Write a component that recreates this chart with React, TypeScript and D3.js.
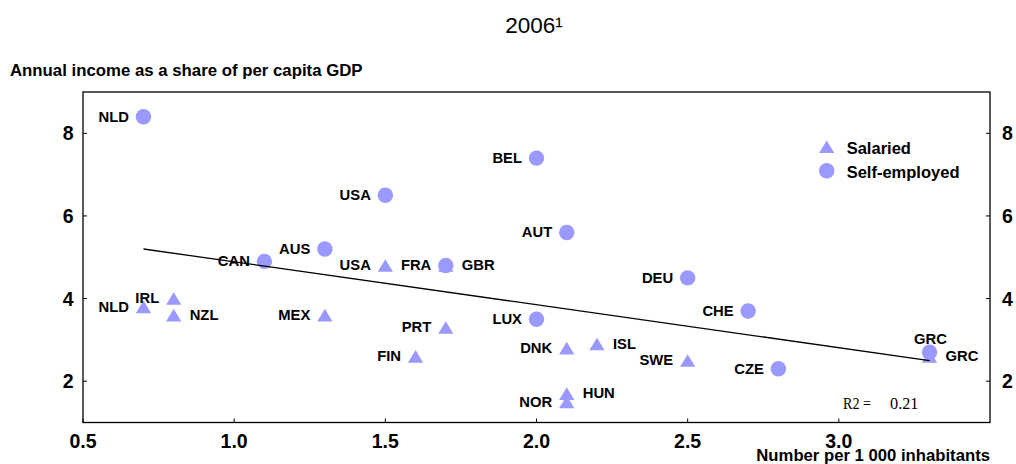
import React from "react";
import * as d3 from "d3";

const salariedCountries = ["NLD", "IRL", "NZL", "MEX", "USA", "FRA", "PRT", "FIN", "DNK", "ISL", "SWE", "HUN", "NOR", "GRC"];
const salariedX = [0.7, 0.8, 0.8, 1.3, 1.5, 1.7, 1.7, 1.6, 2.1, 2.2, 2.5, 2.1, 2.1, 3.3];
const salariedY = [3.8, 4.0, 3.6, 3.6, 4.8, 4.8, 3.3, 2.6, 2.8, 2.9, 2.5, 1.7, 1.5, 2.6];
const salariedLabelSide = ["l", "l", "r", "l", "l", "l", "l", "l", "l", "r", "l", "r", "l", "r"];

const selfCountries = ["NLD", "BEL", "USA", "AUT", "AUS", "CAN", "GBR", "DEU", "CHE", "LUX", "CZE", "GRC"];
const selfX = [0.7, 2.0, 1.5, 2.1, 1.3, 1.1, 1.7, 2.5, 2.7, 2.0, 2.8, 3.3];
const selfY = [8.4, 7.4, 6.5, 5.6, 5.2, 4.9, 4.8, 4.5, 3.7, 3.5, 2.3, 2.7];
const selfLabelSide = ["l", "l", "l", "l", "l", "l", "r", "l", "l", "l", "l", "t"];

const trendX = [0.7, 3.3];
const trendY = [5.2, 2.5];

const xTicks = [0.5, 1.0, 1.5, 2.0, 2.5, 3.0];
const yTicks = [2, 4, 6, 8];

const seriesNames = ["Salaried", "Self-employed"];

const W = 1016;
const H = 464;
const L = 83;
const R = 990;
const T = 92;
const B = 422.5;
const COLOR = "#9999ff";
const SANS = "'Liberation Sans', Arial, sans-serif";
const SERIF = "'Liberation Serif', 'Times New Roman', serif";

const x = d3.scaleLinear().domain([0.5, 3.5]).range([L, R]);
const y = d3.scaleLinear().domain([1, 9]).range([B, T]);

const triPath = "M0,-6.3L7.6,6.3L-7.6,6.3Z";

function Label({ cx, cy, side, text }: { cx: number; cy: number; side: string; text: string }) {
  let tx = cx;
  let ty = cy + 4.8;
  let anchor: "start" | "end" | "middle" = "end";
  if (side === "l") {
    tx = cx - 14.5;
    anchor = "end";
  } else if (side === "r") {
    tx = cx + 16;
    anchor = "start";
  } else {
    tx = cx + 1;
    ty = cy - 8;
    anchor = "middle";
  }
  return (
    <text x={tx} y={ty} textAnchor={anchor} fontFamily={SANS} fontWeight="bold" fontSize={14.8} fill="#000">
      {text}
    </text>
  );
}

export default function App() {
  const trendLine = d3
    .line<number>()
    .x((d) => x(trendX[d]))
    .y((d) => y(trendY[d]))(trendX.map((_, i) => i));

  return (
    <svg width={W} height={H} style={{ position: "absolute", left: 0, top: 0, background: "#fff" }}>
      {/* title */}
      <text x={534} y={33} textAnchor="middle" fontFamily={SANS} fontSize={22.5} fill="#000">
        2006¹
      </text>
      {/* y axis title */}
      <text x={10} y={76} fontFamily={SANS} fontWeight="bold" fontSize={16.8} fill="#000">
        Annual income as a share of per capita GDP
      </text>

      {/* frame */}
      <rect x={L} y={T} width={R - L} height={B - T} fill="none" stroke="#000" strokeWidth={1.3} />

      {/* y ticks left & right */}
      {yTicks.map((t) => (
        <g key={"y" + t}>
          <line x1={L} x2={L + 4} y1={y(t)} y2={y(t)} stroke="#000" strokeWidth={1} />
          <line x1={R - 4} x2={R} y1={y(t)} y2={y(t)} stroke="#000" strokeWidth={1} />
          <text x={73.5} y={y(t) + 7} textAnchor="end" fontFamily={SANS} fontWeight="bold" fontSize={19.5} fill="#000">
            {t}
          </text>
          <text x={1002} y={y(t) + 7} textAnchor="start" fontFamily={SANS} fontWeight="bold" fontSize={19.5} fill="#000">
            {t}
          </text>
        </g>
      ))}

      {/* x ticks */}
      {xTicks.map((t) => (
        <g key={"x" + t}>
          <line x1={x(t)} x2={x(t)} y1={B} y2={B - 4} stroke="#000" strokeWidth={1} />
          <text x={x(t)} y={448} textAnchor="middle" fontFamily={SANS} fontWeight="bold" fontSize={19.5} fill="#000">
            {d3.format(".1f")(t)}
          </text>
        </g>
      ))}

      {/* x axis title */}
      <text x={R} y={461} textAnchor="end" fontFamily={SANS} fontWeight="bold" fontSize={16.7} fill="#000">
        Number per 1 000 inhabitants
      </text>

      {/* salaried triangles */}
      {salariedX.map((v, i) => (
        <path key={"s" + i} d={triPath} transform={`translate(${x(v)},${y(salariedY[i])})`} fill={COLOR} />
      ))}
      {/* self-employed circles */}
      {selfX.map((v, i) => (
        <circle key={"c" + i} cx={x(v)} cy={y(selfY[i])} r={7.7} fill={COLOR} />
      ))}

      {/* trend line */}
      <path d={trendLine || ""} fill="none" stroke="#000" strokeWidth={1.3} />

      {/* labels */}
      {salariedX.map((v, i) => (
        <Label key={"ls" + i} cx={x(v)} cy={y(salariedY[i])} side={salariedLabelSide[i]} text={salariedCountries[i]} />
      ))}
      {selfX.map((v, i) => (
        <Label key={"lc" + i} cx={x(v)} cy={y(selfY[i])} side={selfLabelSide[i]} text={selfCountries[i]} />
      ))}

      {/* legend */}
      <path d={triPath} transform="translate(826.7,146.7)" fill={COLOR} />
      <circle cx={826.7} cy={170.7} r={7.7} fill={COLOR} />
      <text x={846.7} y={154} fontFamily={SANS} fontWeight="bold" fontSize={16.5} fill="#000">
        {seriesNames[0]}
      </text>
      <text x={846.7} y={177.5} fontFamily={SANS} fontWeight="bold" fontSize={16.5} fill="#000">
        {seriesNames[1]}
      </text>

      {/* R2 */}
      <text x={843} y={408.5} fontFamily={SERIF} fontSize={17.5} textLength={28} lengthAdjust="spacingAndGlyphs" fill="#000">
        R2 =
      </text>
      <text x={890} y={408.5} fontFamily={SERIF} fontSize={17.5} textLength={28.5} lengthAdjust="spacingAndGlyphs" fill="#000">
        0.21
      </text>
    </svg>
  );
}
